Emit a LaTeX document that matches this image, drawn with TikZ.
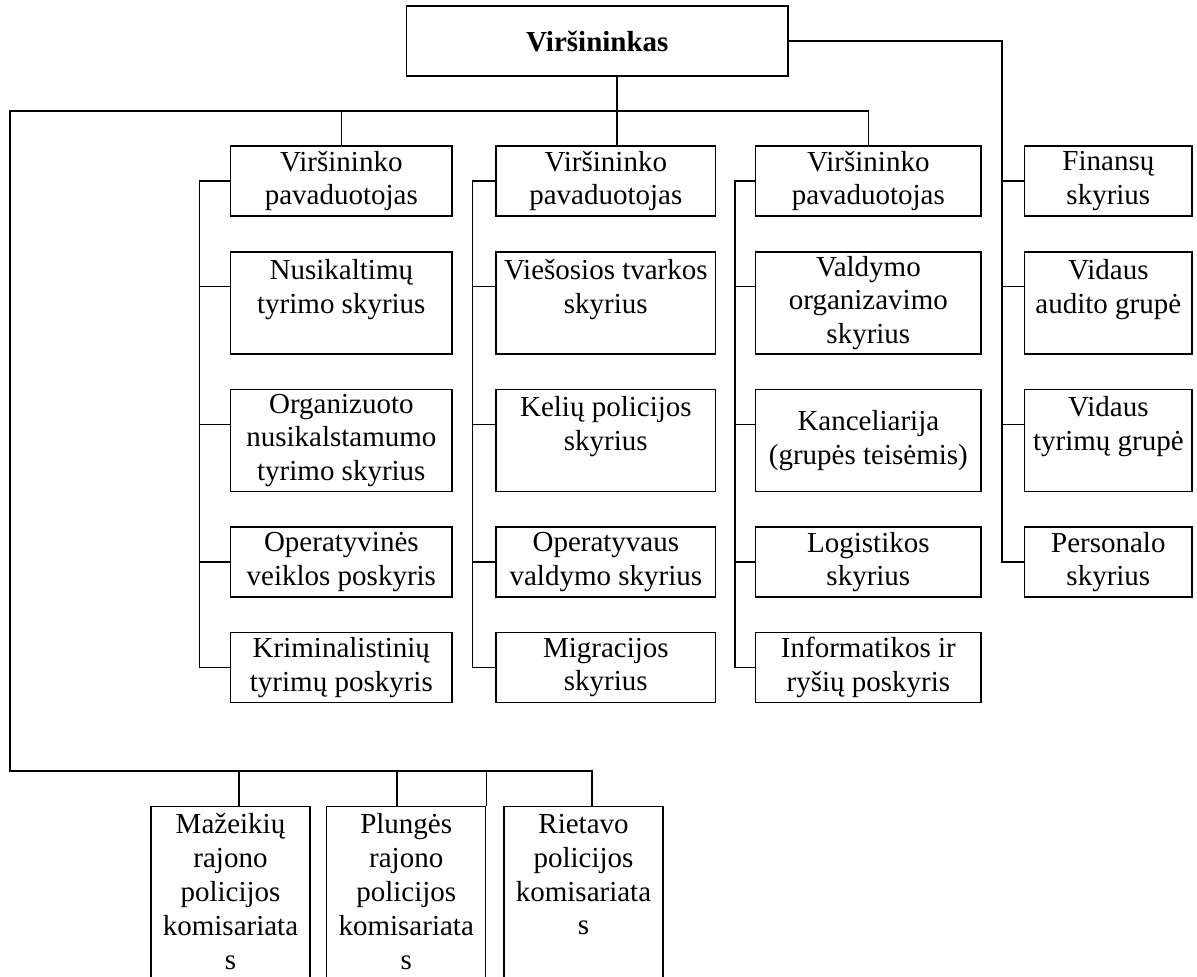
\documentclass[tikz,border=0pt]{standalone}
\usepackage{fontspec}
\setmainfont{Liberation Serif}
\tikzset{
  unit/.style={draw, line width=0.7pt, inner sep=0pt, align=center,
    font=\fontsize{14.5pt}{16.9pt}\selectfont},
  short/.style={minimum height=35pt},
  tall/.style={minimum height=51pt},
  colA/.style={minimum width=110.65pt},
  colB/.style={minimum width=109.85pt},
  colC/.style={minimum width=112.65pt},
  colD/.style={minimum width=83.65pt},
  office/.style={minimum width=79.5pt, minimum height=101.6pt, anchor=north},
  wire/.style={line width=0.7pt}
}

\begin{document}
\begin{tikzpicture}[x=0.5pt, y=-0.5pt]
        \useasboundingbox (0,0) rectangle (1197,976);
        \clip (0,0) rectangle (1197,976);

        \node[unit, short, minimum width=190.65pt,
          font=\fontsize{14.5pt}{16.9pt}\selectfont\bfseries] (chief) at (597.3,41) {Viršininkas};

        \node[unit, short, colA] (dep1) at (341.35,181) {Viršininko\\pavaduotojas};
        \node[unit, tall, colA] (nus) at (341.35,303) {Nusikaltimų\\tyrimo skyrius\\\mbox{}};
        \node[unit, tall, colA] (org) at (341.35,440.5) {Organizuoto\\nusikalstamumo\\tyrimo skyrius};
        \node[unit, short, colA] (opv) at (341.35,562) {Operatyvinės\\veiklos poskyris};
        \node[unit, short, colA] (krim) at (341.35,667.5) {Kriminalistinių\\tyrimų poskyris};

        \node[unit, short, colB] (dep2) at (605.85,181) {Viršininko\\pavaduotojas};
        \node[unit, tall, colB] (vies) at (605.85,303) {Viešosios tvarkos\\skyrius\\\mbox{}};
        \node[unit, tall, colB] (kel) at (605.85,440.5) {Kelių policijos\\skyrius\\\mbox{}};
        \node[unit, short, colB] (oval) at (605.85,562) {Operatyvaus\\valdymo skyrius};
        \node[unit, short, colB] (mig) at (605.85,667.5) {Migracijos\\skyrius};

        \node[unit, short, colC] (dep3) at (868.35,181) {Viršininko\\pavaduotojas};
        \node[unit, tall, colC] (vald) at (868.35,303) {Valdymo\\organizavimo\\skyrius};
        \node[unit, tall, colC] (kanc) at (868.35,440.5) {Kanceliarija\\(grupės teisėmis)};
        \node[unit, short, colC] (log) at (868.35,562) {Logistikos\\skyrius};
        \node[unit, short, colC] (inf) at (868.35,667.5) {Informatikos ir\\ryšių poskyris};

        \node[unit, short, colD] (fin) at (1108.35,181) {Finansų\\skyrius};
        \node[unit, tall, colD] (aud) at (1108.35,303) {Vidaus\\audito grupė\\\mbox{}};
        \node[unit, tall, colD] (inv) at (1108.35,440.5) {Vidaus\\tyrimų grupė\\\mbox{}};
        \node[unit, short, colD] (pers) at (1108.35,562) {Personalo\\skyrius};

        \node[unit, office] (maz) at (230.5,806) {Mažeikių\\rajono\\policijos\\komisariata\\s\\\mbox{}};
        \node[unit, office] (plu) at (406.2,806) {Plungės\\rajono\\policijos\\komisariata\\s\\\mbox{}};
        \node[unit, office] (rie) at (583.5,806) {Rietavo\\policijos\\komisariata\\s\\\mbox{}\\\mbox{}};

        \coordinate (busL) at (10,111);
        \coordinate (busB) at (10,771);

        \draw[wire] ([xshift=9.85pt]chief.south) -- ([xshift=5.575pt]dep2.north);
        \draw[wire] (dep3.north) |- (busL) -- (busB) -| ([xshift=4.25pt]rie.north);
        \draw[wire] (dep1.north) -- (dep1.north |- busL);
        \draw[wire] ([xshift=4.25pt]maz.north) -- ([xshift=4.25pt]maz.north |- busB);
        \draw[wire] ([xshift=-4.6pt]plu.north) -- ([xshift=-4.6pt]plu.north |- busB);
        \draw[wire] (plu.north east) -- (plu.north east |- busB);

        \draw[wire] (dep1.west) -- ++(-30.7,0) |- (krim.west);
        \draw[wire] (nus.north west) ++(0,35) -- ++(-30.7,0);
        \draw[wire] (org.north west) ++(0,35.5) -- ++(-30.7,0);
        \draw[wire] (opv.west) -- ++(-30.7,0);

        \draw[wire] (dep2.west) -- ++(-23,0) |- (mig.west);
        \draw[wire] (vies.north west) ++(0,35) -- ++(-23,0);
        \draw[wire] (kel.north west) ++(0,35.5) -- ++(-23,0);
        \draw[wire] (oval.west) -- ++(-23,0);

        \draw[wire] (dep3.west) -- ++(-20,0) |- (inf.west);
        \draw[wire] (vald.north west) ++(0,35) -- ++(-20,0);
        \draw[wire] (kanc.north west) ++(0,35.5) -- ++(-20,0);
        \draw[wire] (log.west) -- ++(-20,0);

        \draw[wire] (chief.east) -| ([xshift=-11pt]pers.west) -- (pers.west);
        \draw[wire] (fin.west) -- ++(-22,0);
        \draw[wire] (aud.north west) ++(0,35) -- ++(-22,0);
        \draw[wire] (inv.north west) ++(0,35.5) -- ++(-22,0);

    \end{tikzpicture}
\end{document}
